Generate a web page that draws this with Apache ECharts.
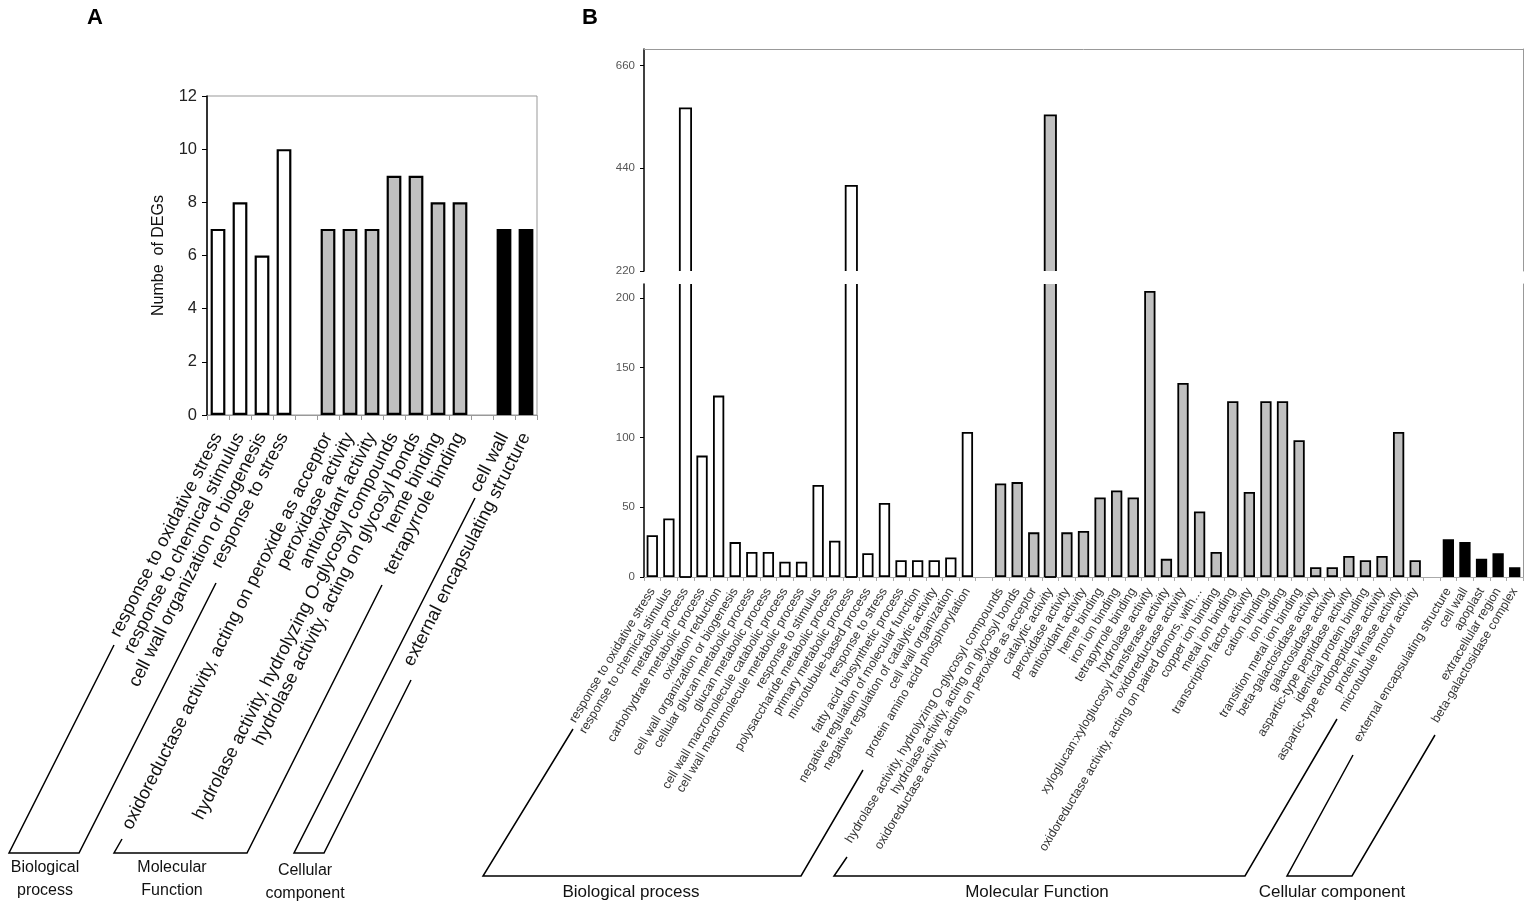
<!DOCTYPE html>
<html>
<head>
<meta charset="utf-8">
<script src="https://cdn.jsdelivr.net/npm/echarts@6.0.0/dist/echarts.min.js"></script>
<style>
  html, body { margin: 0; padding: 0; background: #fff; }
  #main { width: 1535px; height: 911px; }
</style>
</head>
<body>
<div id="main"></div>
<script>
// panel A
var aCatsBP = ['response to oxidative stress', 'response to chemical stimulus', 'cell wall organization or biogenesis', 'response to stress'];
var aValsBP = [7, 8, 6, 10];
var aCatsMF = ['oxidoreductase activity, acting on peroxide as acceptor', 'peroxidase activity', 'antioxidant activity',
  'hydrolase activity, hydrolyzing O-glycosyl compounds', 'hydrolase activity, acting on glycosyl bonds', 'heme binding', 'tetrapyrrole binding'];
var aValsMF = [7, 7, 7, 9, 9, 8, 8];
var aCatsCC = ['cell wall', 'external encapsulating structure'];
var aValsCC = [7, 7];
var aTicks = [0, 2, 4, 6, 8, 10, 12];

// panel B
var bCatsBP = ['response to oxidative stress', 'response to chemical stimulus', 'metabolic process', 'carbohydrate metabolic process',
  'oxidation reduction', 'cell wall organization or biogenesis', 'cellular glucan metabolic process', 'glucan metabolic process',
  'cell wall macromolecule catabolic process', 'cell wall macromolecule metabolic process', 'response to stimulus',
  'polysaccharide metabolic process', 'primary metabolic process', 'microtubule-based process', 'response to stress',
  'fatty acid biosynthetic process', 'negative regulation of molecular function', 'negative regulation of catalytic activity',
  'cell wall organization', 'protein amino acid phosphorylation'];
var bValsBP = [30, 42, 568, 87, 130, 25, 18, 18, 11, 11, 66, 26, 402, 17, 53, 12, 12, 12, 14, 104];
var bCatsMF = ['hydrolase activity, hydrolyzing O-glycosyl compounds', 'hydrolase activity, acting on glycosyl bonds',
  'oxidoreductase activity, acting on peroxide as acceptor', 'catalytic activity', 'peroxidase activity', 'antioxidant activity',
  'heme binding', 'iron ion binding', 'tetrapyrrole binding', 'hydrolase activity', 'xyloglucan:xyloglucosyl transferase activity',
  'oxidoreductase activity', 'oxidoreductase activity, acting on paired donors, with\u2026', 'copper ion binding', 'metal ion binding',
  'transcription factor activity', 'cation binding', 'ion binding', 'transition metal ion binding', 'beta-galactosidase activity',
  'galactosidase activity', 'aspartic-type peptidase activity', 'identical protein binding', 'aspartic-type endopeptidase activity',
  'protein kinase activity', 'microtubule motor activity'];
var bValsMF = [67, 68, 32, 553, 32, 33, 57, 62, 57, 205, 13, 139, 47, 18, 126, 61, 126, 126, 98, 7, 7, 15, 12, 15, 104, 12];
var bCatsCC = ['external encapsulating structure', 'cell wall', 'apoplast', 'extracellular region', 'beta-galactosidase complex'];
var bValsCC = [27, 25, 13, 17, 7];
var bLowTicks = [0, 50, 100, 150, 200];
var bHighTicks = [220, 440, 660];
var B_LOW_MAX = 210;
var B_HIGH_MIN = 220;
var B_HIGH_MAX = 695;

var FILLS = ['#ffffff', '#c0c0c0', '#000000'];

// join groups with an empty slot between them
function build(groups) {
  var cats = [], vals = [], cols = [];
  groups.forEach(function (g, gi) {
    if (gi > 0) { cats.push(''); vals.push(null); cols.push(null); }
    g.cats.forEach(function (c, i) { cats.push(c); vals.push(g.vals[i]); cols.push(FILLS[gi]); });
  });
  return { cats: cats, vals: vals, cols: cols };
}

var A = build([{ cats: aCatsBP, vals: aValsBP }, { cats: aCatsMF, vals: aValsMF }, { cats: aCatsCC, vals: aValsCC }]);
var B = build([{ cats: bCatsBP, vals: bValsBP }, { cats: bCatsMF, vals: bValsMF }, { cats: bCatsCC, vals: bValsCC }]);

var aData = A.vals.map(function (v, i) {
  return v == null ? '-' : { value: v, itemStyle: { color: A.cols[i] } };
});
var bLowData = B.vals.map(function (v, i) {
  return (v == null || v > B_LOW_MAX) ? '-' : { value: v, itemStyle: { color: B.cols[i] } };
});
var broken = [];
B.vals.forEach(function (v, i) { if (v != null && v > B_LOW_MAX) broken.push({ idx: i, v: v, color: B.cols[i] }); });
var brokenData = broken.map(function (b) { return [b.idx, b.v]; });

var BAR_FRAC = 0.68;
var BORDER_B = 1.8;

function lowBroken(params, api) {
  var i = api.value(0);
  var p0 = api.coord([i, 0]);
  var p1 = api.coord([i, B_LOW_MAX]);
  var w = api.size([1, 0])[0] * BAR_FRAC;
  var l = p0[0] - w / 2, r = p0[0] + w / 2;
  var ln = { stroke: '#000', lineWidth: BORDER_B };
  return {
    type: 'group', children: [
      { type: 'rect', shape: { x: l, y: p1[1], width: w, height: p0[1] - p1[1] }, style: { fill: broken[params.dataIndex].color } },
      { type: 'line', shape: { x1: l, y1: p0[1], x2: l, y2: p1[1] }, style: ln },
      { type: 'line', shape: { x1: r, y1: p0[1], x2: r, y2: p1[1] }, style: ln },
      { type: 'line', shape: { x1: l, y1: p0[1], x2: r, y2: p0[1] }, style: ln }
    ]
  };
}

function highBroken(params, api) {
  var i = api.value(0), v = api.value(1);
  var p0 = api.coord([i, B_HIGH_MIN]);
  var p1 = api.coord([i, v]);
  var w = api.size([1, 0])[0] * BAR_FRAC;
  var l = p0[0] - w / 2, r = p0[0] + w / 2;
  return {
    type: 'group', children: [
      { type: 'rect', shape: { x: l, y: p1[1], width: w, height: p0[1] - p1[1] }, style: { fill: broken[params.dataIndex].color } },
      { type: 'polyline', shape: { points: [[l, p0[1]], [l, p1[1]], [r, p1[1]], [r, p0[1]]] }, style: { stroke: '#000', lineWidth: BORDER_B, fill: null } }
    ]
  };
}

var FONT = 'Liberation Sans, Arial, sans-serif';
var frameLine = { show: true, lineStyle: { color: '#999', width: 1 } };

function frameAxis(grid) {
  return { type: 'value', gridIndex: grid, position: 'right', axisLine: frameLine, axisTick: { show: false },
    axisLabel: { show: false }, splitLine: { show: false } };
}

var myChart = echarts.init(document.getElementById('main'));
var option = {
  animation: false,
  backgroundColor: '#fff',
  grid: [
    { left: 207, top: 96, right: 998, bottom: 496, show: true, borderColor: '#999', borderWidth: 1 },
    { left: 644, top: 284, right: 12, bottom: 334 },
    { left: 644, top: 49, right: 12, bottom: 640 }
  ],
  xAxis: [
    {
      type: 'category', gridIndex: 0, data: A.cats,
      axisLine: { lineStyle: { color: '#999', width: 1 } },
      axisTick: { show: true, length: 5, interval: 0, lineStyle: { color: '#999' } },
      axisLabel: { interval: 0, rotate: 63, margin: 19, fontSize: 18.3, color: '#111', fontFamily: FONT }
    },
    {
      type: 'category', gridIndex: 1, data: B.cats,
      axisLine: { lineStyle: { color: '#aaa', width: 1 } },
      axisTick: { show: true, length: 4, interval: 0, lineStyle: { color: '#aaa' } },
      axisLabel: { interval: 0, rotate: 59, margin: 12, fontSize: 12.5, color: '#333', fontFamily: FONT }
    },
    {
      type: 'category', gridIndex: 2, data: B.cats, position: 'top',
      axisLine: { show: true, onZero: false, lineStyle: { color: '#999', width: 1 } },
      axisTick: { show: false }, axisLabel: { show: false }
    }
  ],
  yAxis: [
    {
      type: 'value', gridIndex: 0, min: 0, max: 12, interval: 2,
      name: 'Numbe  of DEGs', nameLocation: 'middle', nameGap: 40,
      nameTextStyle: { fontSize: 16, color: '#111', fontFamily: FONT },
      axisLine: { show: true, lineStyle: { color: '#000', width: 1.5 } },
      axisTick: { show: true, length: 5, lineStyle: { color: '#000' } },
      axisLabel: { fontSize: 16.5, color: '#222', margin: 10, fontFamily: FONT, customValues: aTicks },
      splitLine: { show: false }
    },
    {
      type: 'value', gridIndex: 1, min: 0, max: B_LOW_MAX,
      axisLine: { show: true, lineStyle: { color: '#000', width: 1.5 } },
      axisTick: { show: true, length: 4, lineStyle: { color: '#000' }, customValues: bLowTicks },
      axisLabel: { fontSize: 11.5, color: '#555', margin: 9, fontFamily: FONT, customValues: bLowTicks },
      splitLine: { show: false }
    },
    {
      type: 'value', gridIndex: 2, min: B_HIGH_MIN, max: B_HIGH_MAX,
      axisLine: { show: true, onZero: false, lineStyle: { color: '#000', width: 1.5 } },
      axisTick: { show: true, length: 4, lineStyle: { color: '#000' }, customValues: bHighTicks },
      axisLabel: { fontSize: 11.5, color: '#555', margin: 9, fontFamily: FONT, customValues: bHighTicks },
      splitLine: { show: false }
    },
    frameAxis(1),
    frameAxis(2)
  ],
  series: [
    {
      type: 'bar', xAxisIndex: 0, yAxisIndex: 0, data: aData, barCategoryGap: '33%',
      itemStyle: { borderColor: '#000', borderWidth: 2.2 }
    },
    {
      type: 'bar', xAxisIndex: 1, yAxisIndex: 1, data: bLowData, barCategoryGap: '32%',
      itemStyle: { borderColor: '#000', borderWidth: BORDER_B }
    },
    { type: 'custom', xAxisIndex: 1, yAxisIndex: 1, data: brokenData, renderItem: lowBroken },
    { type: 'custom', xAxisIndex: 2, yAxisIndex: 2, data: brokenData, renderItem: highBroken }
  ],
  graphic: [
    // panel letters
    { type: 'text', x: 95, y: 18, style: { text: 'A', font: 'bold 22px ' + FONT, fill: '#000', textAlign: 'center', textVerticalAlign: 'middle' } },
    { type: 'text', x: 590, y: 18, style: { text: 'B', font: 'bold 22px ' + FONT, fill: '#000', textAlign: 'center', textVerticalAlign: 'middle' } },
    // panel A group brackets
    { type: 'polyline', shape: { points: [[114, 645], [9, 853], [79, 853], [216, 583]] }, style: { stroke: '#000', lineWidth: 1.5, fill: null } },
    { type: 'polyline', shape: { points: [[122, 839], [114, 853], [247, 853], [382, 585]] }, style: { stroke: '#000', lineWidth: 1.5, fill: null } },
    { type: 'polyline', shape: { points: [[475, 498], [294, 853], [324, 853], [411, 680]] }, style: { stroke: '#000', lineWidth: 1.5, fill: null } },
    { type: 'text', x: 45, y: 856, style: { text: 'Biological\nprocess', font: '16px ' + FONT, fill: '#111', textAlign: 'center', lineHeight: 23 } },
    { type: 'text', x: 172, y: 856, style: { text: 'Molecular\nFunction', font: '16px ' + FONT, fill: '#111', textAlign: 'center', lineHeight: 23 } },
    { type: 'text', x: 305, y: 859, style: { text: 'Cellular\ncomponent', font: '16px ' + FONT, fill: '#111', textAlign: 'center', lineHeight: 23 } },
    // panel B group brackets
    { type: 'polyline', shape: { points: [[573, 729], [483, 876], [801, 876], [863, 770]] }, style: { stroke: '#000', lineWidth: 1.5, fill: null } },
    { type: 'polyline', shape: { points: [[847, 857], [834, 876], [1245, 876], [1337, 719]] }, style: { stroke: '#000', lineWidth: 1.5, fill: null } },
    { type: 'polyline', shape: { points: [[1353, 755], [1287, 876], [1352, 876], [1435, 735]] }, style: { stroke: '#000', lineWidth: 1.5, fill: null } },
    { type: 'text', x: 631, y: 892, style: { text: 'Biological process', font: '17px ' + FONT, fill: '#111', textAlign: 'center', textVerticalAlign: 'middle' } },
    { type: 'text', x: 1037, y: 892, style: { text: 'Molecular Function', font: '17px ' + FONT, fill: '#111', textAlign: 'center', textVerticalAlign: 'middle' } },
    { type: 'text', x: 1332, y: 892, style: { text: 'Cellular component', font: '17px ' + FONT, fill: '#111', textAlign: 'center', textVerticalAlign: 'middle' } }
  ]
};
myChart.setOption(option);
</script>
</body>
</html>
